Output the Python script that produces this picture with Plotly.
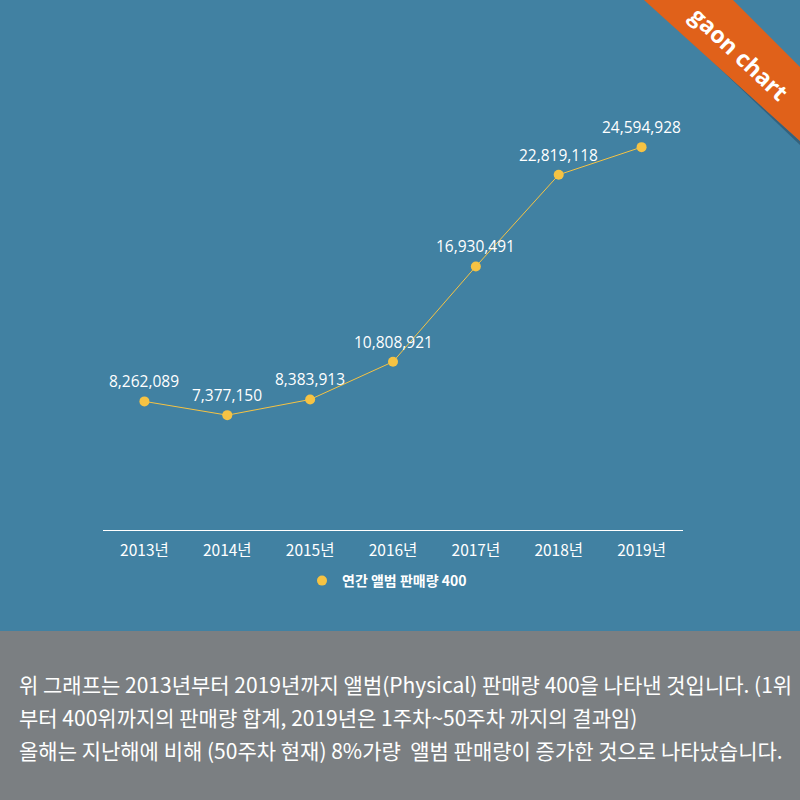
import plotly.graph_objects as go

years = ["2013년", "2014년", "2015년", "2016년", "2017년", "2018년", "2019년"]
sales = [8262089, 7377150, 8383913, 10808921, 16930491, 22819118, 24594928]
series_name = "연간 앨범 판매량 400"
caption_lines = [
    "위 그래프는 2013년부터 2019년까지 앨범(Physical) 판매량 400을 나타낸 것입니다. (1위",
    "부터 400위까지의 판매량 합계, 2019년은 1주차~50주차 까지의 결과임)",
    "올해는 지난해에 비해 (50주차 현재) 8%가량  앨범 판매량이 증가한 것으로 나타났습니다.",
]

BLUE = "#4181a2"
GREY = "#7b7f82"
ORANGE = "#e0611a"
YELLOW = "#f6c343"
W = H = 800

def px(x):
    return x / W

def py(y):
    return 1 - y / H

fig = go.Figure()
fig.add_trace(go.Scatter(
    x=years, y=sales, name=series_name, showlegend=False,
    mode="lines+markers",
    line=dict(color=YELLOW, width=1),
    marker=dict(color=YELLOW, size=10),
    cliponaxis=False, hoverinfo="skip",
))
# legend entry (marker only)
fig.add_trace(go.Scatter(
    x=[None], y=[None], name=series_name, mode="markers",
    marker=dict(color=YELLOW, size=10), showlegend=True,
))

shapes = [
    dict(type="rect", xref="paper", yref="paper", x0=0, x1=1, y0=0, y1=py(631),
         fillcolor=GREY, line=dict(width=0), layer="below"),
    dict(type="path", xref="paper", yref="paper",
         path=f"M {px(645)} {py(0)} L {px(648)} {py(0)} L {px(800)} {py(145)} L {px(800)} {py(141)} Z",
         fillcolor="rgba(40,60,80,0.45)", line=dict(width=0)),
    dict(type="path", xref="paper", yref="paper",
         path=f"M {px(644)} {py(0)} L {px(733)} {py(0)} L {px(800)} {py(67)} L {px(800)} {py(141)} Z",
         fillcolor=ORANGE, line=dict(width=0)),
]

annotations = [
    dict(text="<b>gaon chart</b>", xref="paper", yref="paper",
         x=px(739), y=py(53), xanchor="center", yanchor="middle",
         textangle=43, showarrow=False,
         font=dict(family="Open Sans, Noto Sans", size=23, color="white")),
]
for yr, v in zip(years, sales):
    annotations.append(dict(
        x=yr, y=v, xref="x", yref="y", text=f"{v:,}", showarrow=False,
        yshift=20, xanchor="center", yanchor="middle",
        font=dict(family="Open Sans, Noto Sans", size=15.5, color="white"),
    ))
for i, line in enumerate(caption_lines):
    annotations.append(dict(
        text=line, xref="paper", yref="paper",
        x=px(17), y=py(684 + i * 33), xanchor="left", yanchor="middle",
        showarrow=False,
        font=dict(family="Noto Sans CJK KR", size=21, color="white"),
    ))

fig.update_layout(
    width=W, height=H,
    margin=dict(l=0, r=0, t=0, b=0),
    paper_bgcolor=BLUE, plot_bgcolor=BLUE,
    shapes=shapes, annotations=annotations,
    showlegend=True, hovermode=False,
    legend=dict(orientation="h", x=px(387), y=py(581), xanchor="center", yanchor="middle",
                font=dict(family="Noto Sans CJK KR", size=14, color="white", weight="bold"),
                bgcolor="rgba(0,0,0,0)", itemwidth=30),
    xaxis=dict(domain=[px(103), px(683)], type="category", range=[-0.5, 6.5],
               showgrid=False, zeroline=False, showline=True, linecolor="white", linewidth=1,
               ticks="", ticklabelstandoff=6, fixedrange=True,
               tickfont=dict(family="Noto Sans CJK KR", size=15.5, color="white")),
    yaxis=dict(domain=[py(530), py(63)], range=[0, 30000000], visible=False,
               showgrid=False, zeroline=False, fixedrange=True),
)

fig.write_html("out.html", config={"displayModeBar": False},
               post_script="document.body.style.margin='0';document.body.style.overflow='hidden';")
